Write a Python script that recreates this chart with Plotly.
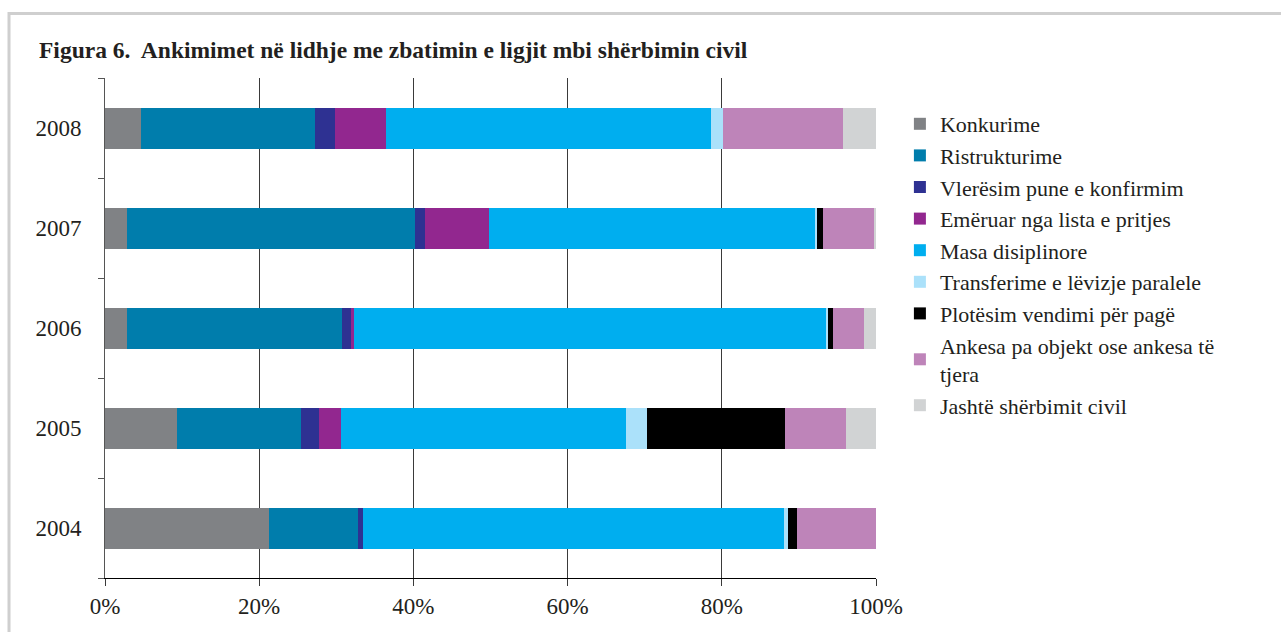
import plotly.graph_objects as go

# Years (bottom to top) and the share of appeals per category, in percent
years = ["2004", "2005", "2006", "2007", "2008"]

series_names = [
    "Konkurime",
    "Ristrukturime",
    "Vlerësim pune e konfirmim",
    "Emëruar nga lista e pritjes",
    "Masa disiplinore",
    "Transferime e lëvizje paralele",
    "Plotësim vendimi për pagë",
    "Ankesa pa objekt ose ankesa të<br>tjera",
    "Jashtë shërbimit civil",
]

konkurime      = [21.3, 9.4, 2.8, 2.8, 4.7]
ristrukturime  = [11.5, 16.0, 28.0, 37.4, 22.5]
vleresim       = [0.7, 2.4, 1.1, 1.3, 2.6]
emeruar        = [0.0, 2.8, 0.4, 8.3, 6.7]
masa           = [54.6, 37.0, 61.2, 42.3, 42.1]
transferime    = [0.5, 2.7, 0.3, 0.2, 1.5]
plotesim       = [1.1, 17.9, 0.6, 0.8, 0.0]
ankesa         = [10.3, 7.9, 4.0, 6.7, 15.6]
jashte         = [0.0, 3.9, 1.6, 0.2, 4.3]

series_values = [konkurime, ristrukturime, vleresim, emeruar, masa,
                 transferime, plotesim, ankesa, jashte]

colors = ["#808285", "#007DAC", "#2E3192", "#92278F", "#00AEEF",
          "#ABE1FA", "#000000", "#BE84B9", "#D1D3D4"]

x_ticks = [0, 20, 40, 60, 80, 100]

FONT = "Liberation Serif"
TEXT = "#231F20"

fig = go.Figure()
for i, (name, vals, col) in enumerate(zip(series_names, series_values, colors)):
    fig.add_trace(go.Bar(
        y=years, x=vals, name=name, orientation="h",
        marker=dict(color=col, line=dict(width=0)),
        legendgroup=f"g{i}",
        hoverinfo="skip",
    ))

fig.update_layout(
    barmode="stack",
    bargap=0.59,
    width=1281, height=632,
    margin=dict(l=105, r=405, t=78, b=54),
    paper_bgcolor="white",
    plot_bgcolor="white",
    font=dict(family=FONT, size=23, color=TEXT),
    showlegend=True,
    legend=dict(
        x=1.031, y=0.95, xanchor="left", yanchor="top",
        traceorder="normal", tracegroupgap=2,
        font=dict(family=FONT, size=22, color=TEXT),
        itemwidth=30, bgcolor="rgba(0,0,0,0)",
    ),
    annotations=[dict(
        text="<b>Figura 6.  Ankimimet në lidhje me zbatimin e ligjit mbi shërbimin civil</b>",
        xref="paper", yref="paper", x=-0.088, y=1.056,
        xanchor="left", yanchor="middle", showarrow=False,
        font=dict(family=FONT, size=23.5, color=TEXT),
    )],
    shapes=[dict(
        type="rect", xref="paper", yref="paper",
        x0=-0.1245, x1=1.7, y0=-0.2, y1=1.129,
        line=dict(color="#CFCFCF", width=3), layer="below",
    )],
)

fig.update_xaxes(
    range=[0, 100],
    tickvals=x_ticks,
    ticktext=[f"{v}%" for v in x_ticks],
    showgrid=True, gridcolor="#3A3A3A", gridwidth=1,
    showline=True, linecolor="#000000", linewidth=1,
    ticks="outside", ticklen=7, tickcolor="#3A3A3A",
    zeroline=False,
    tickfont=dict(family=FONT, size=23, color=TEXT),
    fixedrange=True,
)
fig.update_yaxes(
    type="category",
    categoryorder="array", categoryarray=years,
    showline=True, linecolor="#555555", linewidth=1,
    ticks="outside", tickson="boundaries", ticklen=6, tickcolor="#555555",
    ticklabelstandoff=18,
    showgrid=False, zeroline=False,
    tickfont=dict(family=FONT, size=23, color=TEXT),
    fixedrange=True,
)

fig.write_html("out.html")
